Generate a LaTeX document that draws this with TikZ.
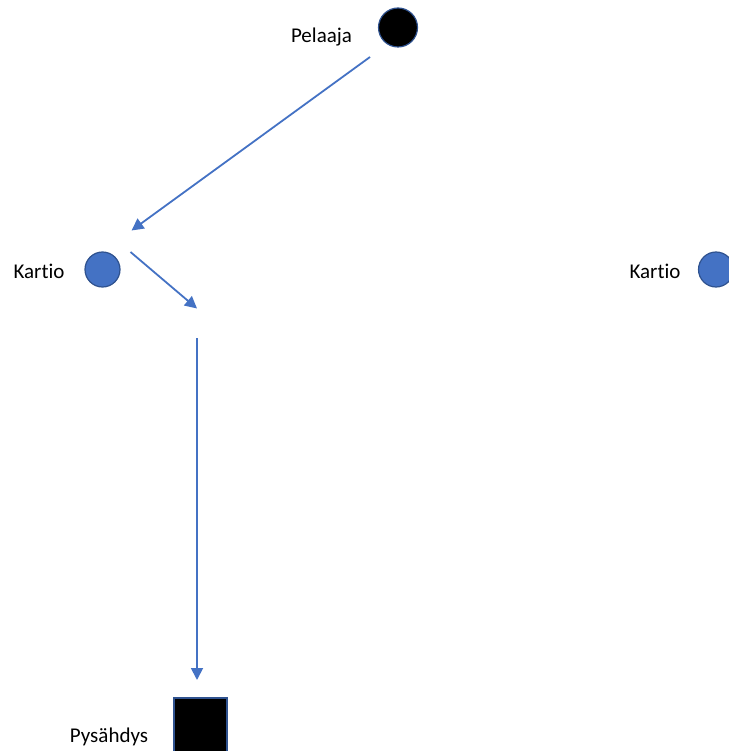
\documentclass[tikz,border=0pt]{standalone}
\usepackage{fontspec}
\setmainfont{Carlito}[Ligatures={NoCommon}]
\usetikzlibrary{arrows.meta}
\definecolor{accent}{HTML}{4472C4}
\definecolor{accentdark}{HTML}{2F528F}
\tikzset{
  flow/.style={draw=accent, line width=1.8pt, -{Triangle[length=12pt,width=12pt]}},
  cone/.style={circle, fill=accent, draw=accentdark, line width=1.2pt, minimum size=35pt, inner sep=0pt},
  player/.style={circle, fill=black, draw=accentdark, line width=1.2pt, minimum size=39pt, inner sep=0pt},
  stopbox/.style={rectangle, fill=black, draw=accentdark, line width=1.2pt, minimum width=53pt, minimum height=56pt, inner sep=0pt},
  lbl/.style={font=\fontsize{21}{25}\selectfont, inner sep=0pt, anchor=base}
}
\begin{document}
\begin{tikzpicture}[x=1pt, y=-1pt]
  \useasboundingbox (0,0) rectangle (728,751);
  % player start
  \node[player] (pelaaja) at (398,27.5) {};
  \node[lbl] (pelaajaLbl) at (321.5,43) {Pelaaja};
  % cones
  \node[cone] (kartioL) at (102.5,269.5) {};
  \node[lbl] (kartioLLbl) at (39,278) {Kartio};
  \node[cone] (kartioR) at (716,269.5) {};
  \node[lbl] (kartioRLbl) at (655,278) {Kartio};
  % stop point
  \node[stopbox] (pysahdys) at (200.5,726) {};
  \node[lbl] (pysahdysLbl) at (109,742) {Pysähdys};
  % path waypoints
  \coordinate (a1) at (370,57);
  \coordinate (a2) at (131.5,230.5);
  \coordinate (b1) at (130.5,252);
  \coordinate (b2) at (197,308.5);
  \coordinate (c1) at (197,338);
  \coordinate (c2) at (197,680);
  \draw[flow] (a1) -- (a2);
  \draw[flow] (b1) -- (b2);
  \draw[flow] (c1) -- (c2);
\end{tikzpicture}
\end{document}
